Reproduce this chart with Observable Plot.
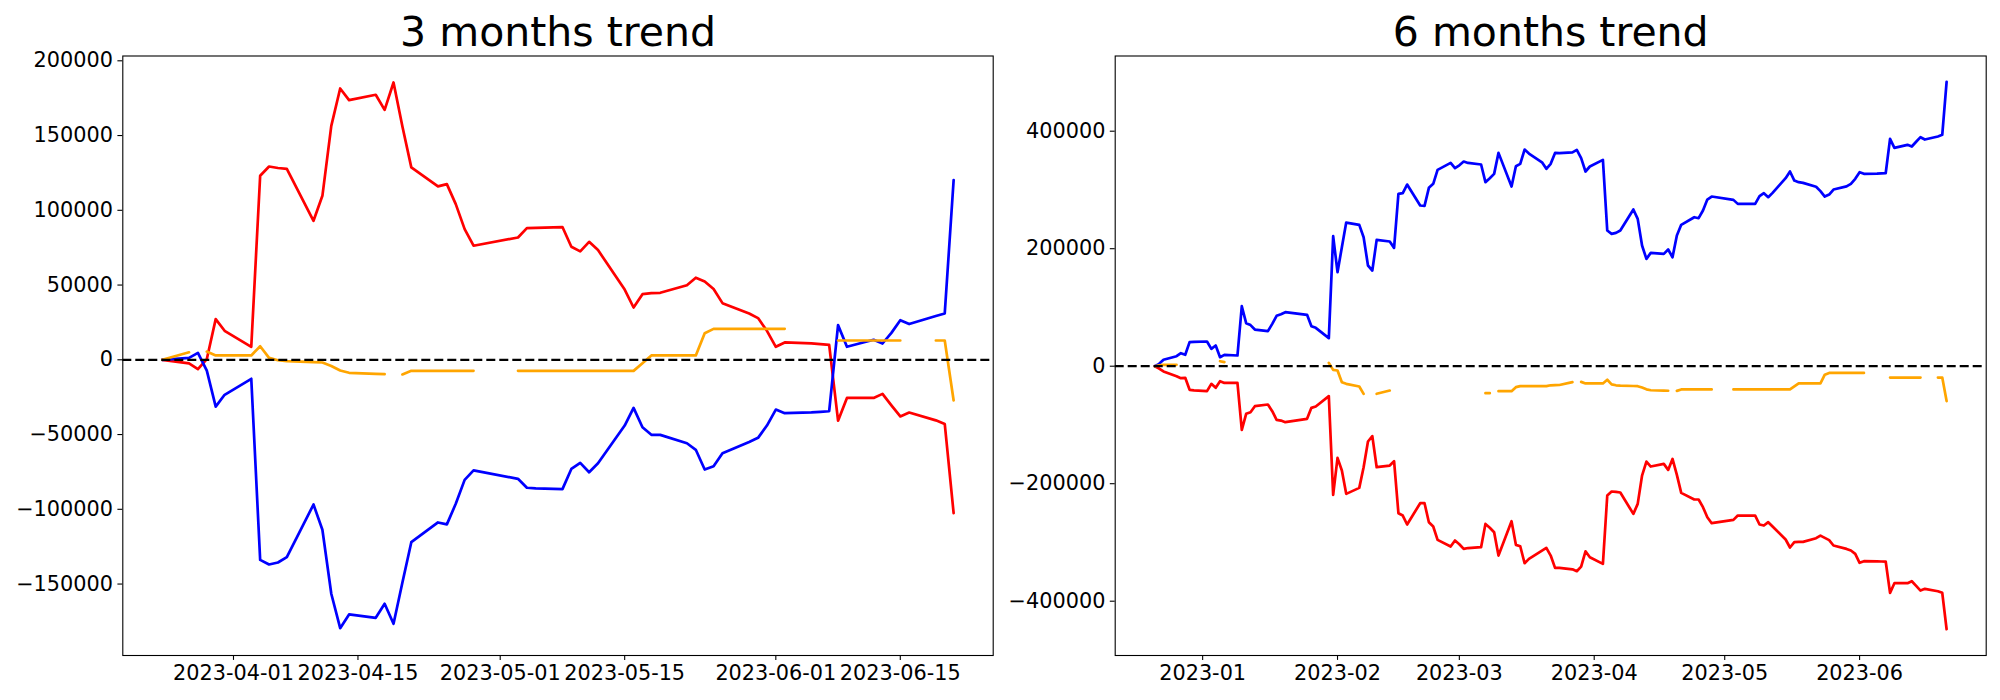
<!DOCTYPE html>
<html>
<head>
<meta charset="utf-8">
<script src="https://cdn.jsdelivr.net/npm/d3@7"></script>
<script src="https://cdn.jsdelivr.net/npm/@observablehq/plot@0.6"></script>
<style>
  html, body { margin: 0; padding: 0; background: white; }
  #wrap { display: flex; width: 2000px; height: 700px; }
  #wrap svg { display: block; }
</style>
</head>
<body>
<div id="wrap"></div>
<script>
// ---------- 3 months trend ----------
const dates3m = [
  "2023-03-24","2023-03-27","2023-03-28","2023-03-29","2023-03-30","2023-03-31",
  "2023-04-03","2023-04-04","2023-04-05","2023-04-06","2023-04-07","2023-04-10","2023-04-11","2023-04-12","2023-04-13","2023-04-14",
  "2023-04-17","2023-04-18","2023-04-19","2023-04-20","2023-04-21","2023-04-24","2023-04-25","2023-04-26","2023-04-27","2023-04-28",
  "2023-05-01","2023-05-03","2023-05-04","2023-05-05","2023-05-08","2023-05-09","2023-05-10","2023-05-11","2023-05-12","2023-05-15","2023-05-16",
  "2023-05-17","2023-05-18","2023-05-19","2023-05-22","2023-05-23","2023-05-24","2023-05-25","2023-05-26","2023-05-29","2023-05-30","2023-05-31",
  "2023-06-01","2023-06-02","2023-06-05","2023-06-06","2023-06-07","2023-06-08","2023-06-09","2023-06-12","2023-06-13","2023-06-14","2023-06-15",
  "2023-06-16","2023-06-19","2023-06-20","2023-06-21"
];
const red3m = [
  0, -2400, -6200, 500, 27200, 19400,
  8700, 123100, 129300, 128300, 127700, 93000, 109700, 156500, 181500, 173700,
  177300, 167200, 185500, 156000, 128700, 116000, 117500, 104100, 87400, 76300,
  null, 81800, 88100, 88300, 88800, 75600, 72500, 78900, 73400, 47000, 35000,
  43900, 44600, 44800, 49900, 54900, 52400, 47300, 37900, 31000, 27900, 19400,
  8700, 11600, 11000, 10500, 10000, -40700, -25500, -25500, -22800, -30500, -37900,
  -35300, -40500, -42900, -102600
];
const blue3m = [
  0, 1300, 4600, -7200, -31300, -23400,
  -12700, -133800, -136900, -135600, -132000, -96800, -113700, -156500, -179500, -170300,
  -172600, -163200, -176600, -149000, -122000, -108800, -110100, -96300, -80300, -74000,
  null, -79600, -85600, -86000, -86500, -73000, -68900, -75200, -69200, -44000, -32200,
  -45100, -50200, -50200, -55800, -60200, -73400, -71200, -62500, -55000, -52200, -44000,
  -33300, -35700, -35200, -34800, -34400, 23200, 8700, 13400, 10900, 18000, 26500,
  23900, 29300, 31000, 120200
];
const orange3m = [
  0, 5000, null, 5500, 2900, 2900,
  2900, 9100, 1300, -300, -900, -1600, -1800, -4200, -7200, -8700,
  -9400, -9600, null, -9800, -7400, -7400, -7400, -7400, -7400, -7400,
  null, -7400, -7400, -7400, -7400, -7400, -7400, -7400, -7400, -7400, -7400,
  -2300, 2900, 2900, 2900, 2900, 17800, 20700, 20700, 20700, 20700, 20700,
  20700, 20700, null, null, null, 12900, 12900, 12900, 12900, 12900, 12900,
  null, 12900, 12900, -27200
];

// ---------- 6 months trend ----------
const dates6m = [
  "2022-12-21","2022-12-22","2022-12-23","2022-12-26","2022-12-27","2022-12-28","2022-12-29","2022-12-30",
  "2023-01-02","2023-01-03","2023-01-04","2023-01-05","2023-01-06","2023-01-09","2023-01-10","2023-01-11","2023-01-12","2023-01-13",
  "2023-01-16","2023-01-17","2023-01-18","2023-01-19","2023-01-20","2023-01-25","2023-01-26","2023-01-27","2023-01-30","2023-01-31",
  "2023-02-01","2023-02-02","2023-02-03","2023-02-06","2023-02-07","2023-02-08","2023-02-09","2023-02-10","2023-02-13","2023-02-14",
  "2023-02-15","2023-02-16","2023-02-17","2023-02-20","2023-02-21","2023-02-22","2023-02-23","2023-02-24","2023-02-27","2023-02-28",
  "2023-03-01","2023-03-02","2023-03-03","2023-03-06","2023-03-07","2023-03-08","2023-03-09","2023-03-10","2023-03-13","2023-03-14",
  "2023-03-15","2023-03-16","2023-03-17","2023-03-20","2023-03-21","2023-03-22","2023-03-23","2023-03-24","2023-03-27","2023-03-28",
  "2023-03-29","2023-03-30","2023-03-31",
  "2023-04-03","2023-04-04","2023-04-05","2023-04-06","2023-04-07","2023-04-10","2023-04-11","2023-04-12","2023-04-13","2023-04-14",
  "2023-04-17","2023-04-18","2023-04-19","2023-04-20","2023-04-21","2023-04-24","2023-04-25","2023-04-26","2023-04-27","2023-04-28",
  "2023-05-01","2023-05-03","2023-05-04","2023-05-05","2023-05-08","2023-05-09","2023-05-10","2023-05-11","2023-05-12","2023-05-15","2023-05-16",
  "2023-05-17","2023-05-18","2023-05-19","2023-05-22","2023-05-23","2023-05-24","2023-05-25","2023-05-26","2023-05-29","2023-05-30","2023-05-31",
  "2023-06-01","2023-06-02","2023-06-05","2023-06-06","2023-06-07","2023-06-08","2023-06-09","2023-06-12","2023-06-13","2023-06-14","2023-06-15",
  "2023-06-16","2023-06-19","2023-06-20","2023-06-21"
];
const red6m = [
  0, -4000, -9000, -17000, -20400, -19800, -40200, -41000,
  -42500, -30000, -36800, -25500, -28400, -28400, -108400, -81100, -78300, -68100,
  -65200, -76600, -91300, -92500, -95300, -89600, -70900, -68600, -51000, -219000,
  -156000, -177600, -217300, -207100, -171900, -128200, -119100, -171900, -169100, -161700,
  -250200, -254200, -269500, -233200, -233200, -265500, -272900, -295600, -307000, -296700,
  -303000, -310900, -309500, -308000, -268400, -275000, -282600, -322300, -263900, -304100,
  -306400, -335400, -328000, -314000, -309200, -322300, -343300, -343300, -345800, -349000,
  -341100, -315000, -325200,
  -336500, -220200, -213300, -214000, -215000, -251400, -234300, -186100, -162300, -170800,
  -166300, -176500, -157800, -185000, -215600, -226900, -226900, -240000, -257000, -267200,
  null, -261600, -254200, -254200, -254200, -269500, -271200, -265500, -272900, -295000, -308600,
  -299600, -299000, -299000, -292800, -288300, -292200, -296000, -305200, -311000, -313700, -319400,
  -334700, -331900, -332300, -332400, -332500, -385800, -369400, -369400, -366000, -374000, -381900,
  -379000, -383000, -385800, -447700
];
const blue6m = [
  0, 4000, 10900, 17000, 22100, 19400, 40900, 41500,
  42000, 29500, 35200, 15300, 19300, 18200, 102100, 73200, 70000, 62400,
  59600, 72100, 85700, 88500, 91900, 87400, 68100, 65300, 47700, 221300,
  160000, 202600, 244500, 240600, 219600, 171400, 162800, 215000, 212200, 201400,
  293300, 294500, 309200, 273500, 272900, 303600, 310400, 334200, 346100, 337000,
  342000, 348400, 346000, 343300, 313200, 320000, 327400, 363100, 305800, 340400,
  344400, 368800, 362000, 347000, 335900, 344400, 363100, 362600, 364000, 368200,
  354100, 331400, 339900,
  351200, 230900, 225300, 227000, 230900, 266700, 250800, 205400, 182700, 192900,
  191200, 198600, 185500, 222600, 240600, 253600, 251900, 265000, 283700, 288800,
  null, 283100, 276300, 276300, 276300, 289400, 294500, 287700, 295000, 320000, 331400,
  316000, 313200, 312100, 305500, 298000, 288800, 292200, 300700, 306000, 310400, 318900,
  330200, 327400, 327800, 328100, 328500, 387000, 371600, 376800, 373900, 382000, 389800,
  385800, 391000, 393800, 484000
];
const orange6m = [
  0, 1500, 2400, 2400, null, null, null, null,
  null, null, null, 8500, 7000, null, null, null, null, null,
  null, null, null, null, null, null, null, null, 5700, -6200,
  -7300, -27300, -30000, -34600, -47100, null, null, -47000, -41400, null,
  null, null, null, null, null, null, null, null, null, null,
  null, null, null, null, -45900, -45900, null, -42500, -42500, -35700,
  -34000, -34000, -34000, -34000, -34000, -32500, -32200, -32000, -27200, null,
  -26700, -29300, -29300,
  -29300, -23100, -30900, -32500, -33100, -33700, -34000, -36400, -39400, -40900,
  -41600, -41800, null, -42000, -39600, -39600, -39600, -39600, -39600, -39600,
  null, -39600, -39600, -39600, -39600, -39600, -39600, -39600, -39600, -39600, -39600,
  -34500, -29300, -29300, -29300, -29300, -14400, -11500, -11500, -11500, -11500, -11500,
  -11500, -11500, null, null, null, -19300, -19300, -19300, -19300, -19300, -19300,
  null, -19300, -19300, -59400
];

// ticks
const yTicks3m = [-150000, -100000, -50000, 0, 50000, 100000, 150000, 200000];
const yTicks6m = [-400000, -200000, 0, 200000, 400000];
const xTicks3m = ["2023-04-01", "2023-04-15", "2023-05-01", "2023-05-15", "2023-06-01", "2023-06-15"];
const xTicks6m = ["2023-01-01", "2023-02-01", "2023-03-01", "2023-04-01", "2023-05-01", "2023-06-01"];

function table(dates, red, blue, orange) {
  return dates.map((d, i) => ({
    date: new Date(d + "T00:00:00Z"),
    red: red[i] == null ? NaN : red[i],
    blue: blue[i] == null ? NaN : blue[i],
    orange: orange[i] == null ? NaN : orange[i]
  }));
}

const fmtY = d => (d < 0 ? "\u2212" + Math.abs(d) : String(d));
const FONT = "DejaVu Sans";
const LW = 2.7;

function panel(o) {
  const data = o.data;
  return Plot.plot({
    width: 1000,
    height: 700,
    marginLeft: o.ml,
    marginRight: o.mr,
    marginTop: 55.5,
    marginBottom: 45,
    style: { fontFamily: FONT, fontSize: "20.8px", color: "black", background: "white", overflow: "visible" },
    x: { type: "utc", domain: o.xDomain },
    y: { domain: o.yDomain },
    marks: [
      Plot.axisX({ ticks: o.xTicks.map(t => new Date(t + "T00:00:00Z")), tickFormat: d3.utcFormat(o.xFmt),
        tickSize: 4.9, tickPadding: 4.9, strokeWidth: 1.1, fontSize: 20.8, label: null }),
      Plot.axisY({ ticks: o.yTicks, tickFormat: fmtY,
        tickSize: 4.9, tickPadding: 4.9, strokeWidth: 1.1, fontSize: 20.8, label: null }),
      Plot.lineY(data, { x: "date", y: "red", stroke: "red", strokeWidth: LW, filter: d => Number.isFinite(d.red) }),
      Plot.lineY(data, { x: "date", y: "blue", stroke: "blue", strokeWidth: LW, filter: d => Number.isFinite(d.blue) }),
      Plot.lineY(data, { x: "date", y: "orange", stroke: "orange", strokeWidth: LW }),
      Plot.ruleY([0], { stroke: "black", strokeWidth: 2.3, strokeDasharray: "9,4" }),
      Plot.frame({ stroke: "black", strokeWidth: 1.1 }),
      Plot.text([o.title], { text: d => d, frameAnchor: "top", lineAnchor: "bottom", dy: -9.8,
        fontSize: 41, fill: "black", fontFamily: FONT })
    ]
  });
}

const wrap = document.getElementById("wrap");
wrap.appendChild(panel({
  data: table(dates3m, red3m, blue3m, orange3m),
  title: "3 months trend",
  ml: 122.3, mr: 7.3,
  xDomain: [new Date(Date.UTC(2023, 2, 19, 13, 12)), new Date(Date.UTC(2023, 5, 25, 10, 48))],
  yDomain: [-197793, 203211],
  xTicks: xTicks3m, xFmt: "%Y-%m-%d",
  yTicks: yTicks3m
}));
wrap.appendChild(panel({
  data: table(dates6m, red6m, blue6m, orange6m),
  title: "6 months trend",
  ml: 114.7, mr: 14.3,
  xDomain: [new Date(Date.UTC(2022, 11, 11, 21, 36)), new Date(Date.UTC(2023, 5, 30, 2, 24))],
  yDomain: [-492425, 528000],
  xTicks: xTicks6m, xFmt: "%Y-%m",
  yTicks: yTicks6m
}));
</script>
</body>
</html>
